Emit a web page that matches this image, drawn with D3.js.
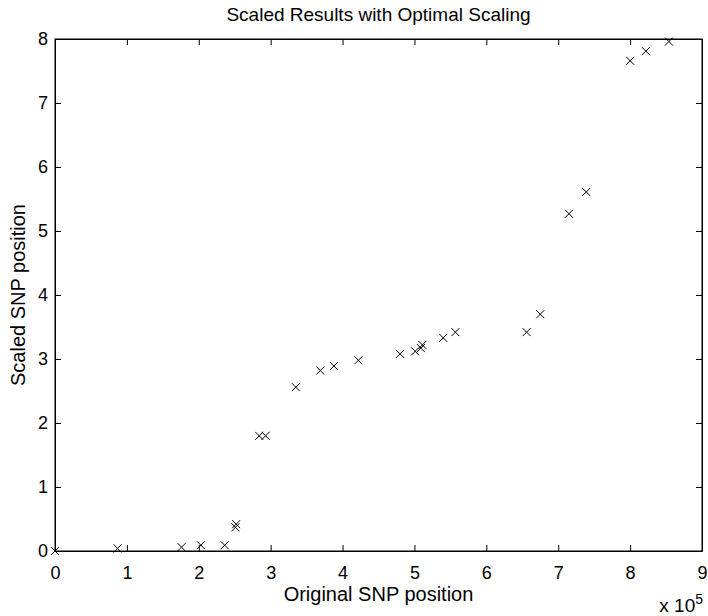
<!DOCTYPE html>
<html>
<head>
<meta charset="utf-8">
<script src="https://cdn.jsdelivr.net/npm/d3@7"></script>
<style>
  body { margin: 0; background: #fff; }
  text { font-family: "Liberation Sans", Arial, sans-serif; fill: #000; }
</style>
</head>
<body>
<div id="chart"></div>
<script>
// original position (x 10^5) and scaled position
var origPos = [0, 0.87, 1.76, 2.03, 2.36, 2.51, 2.52, 2.84, 2.93, 3.35, 3.69, 3.88, 4.22,
               4.80, 5.01, 5.09, 5.11, 5.40, 5.57, 6.56, 6.75, 7.15, 7.39, 8.00, 8.22, 8.54];
var scaledPos = [0, 0.04, 0.06, 0.09, 0.09, 0.37, 0.42, 1.80, 1.80, 2.56, 2.82, 2.89, 2.98,
                 3.08, 3.12, 3.17, 3.22, 3.33, 3.42, 3.42, 3.70, 5.27, 5.61, 7.66, 7.81, 7.96];
var xTicks = [0, 1, 2, 3, 4, 5, 6, 7, 8, 9];
var yTicks = [0, 1, 2, 3, 4, 5, 6, 7, 8];

function drawChart() {
    var w = 708;
    var h = 616;
    var left = 55, right = 702, top = 39, bottom = 551; //plot box

    var svg = d3.select("#chart")
                .append("svg")
                .attr("width", w)
                .attr("height", h);

    var x = d3.scaleLinear().domain([0, 9]).range([left, right]);
    var y = d3.scaleLinear().domain([0, 8]).range([bottom, top]);

    var tickLen = 6;

    // bottom + top axes (ticks pointing inward)
    svg.append("g")
        .attr("transform", "translate(0," + bottom + ")")
        .call(d3.axisBottom(x).tickValues(xTicks).tickSizeInner(-tickLen).tickSizeOuter(0).tickPadding(15))
        .call(styleAxis);
    svg.append("g")
        .attr("transform", "translate(0," + top + ")")
        .call(d3.axisTop(x).tickValues(xTicks).tickSizeInner(-tickLen).tickSizeOuter(0).tickFormat(""))
        .call(styleAxis);
    // left + right axes
    svg.append("g")
        .attr("transform", "translate(" + left + ",0)")
        .call(d3.axisLeft(y).tickValues(yTicks).tickSizeInner(-tickLen).tickSizeOuter(0).tickPadding(7))
        .call(styleAxis);
    svg.append("g")
        .attr("transform", "translate(" + right + ",0)")
        .call(d3.axisRight(y).tickValues(yTicks).tickSizeInner(-tickLen).tickSizeOuter(0).tickFormat(""))
        .call(styleAxis);

    svg.append("rect")
        .attr("x", left).attr("y", top)
        .attr("width", right - left).attr("height", bottom - top)
        .attr("fill", "none").attr("stroke", "#000").attr("stroke-width", 1);

    // x markers
    var s = 4;
    var pts = origPos.map(function(d, i) { return [d, scaledPos[i]]; });
    svg.append("g").selectAll("path")
        .data(pts)
        .enter()
        .append("path")
        .attr("d", function(d) {
            var cx = x(d[0]), cy = y(d[1]);
            return "M" + (cx - s) + "," + (cy - s) + "L" + (cx + s) + "," + (cy + s) +
                   "M" + (cx - s) + "," + (cy + s) + "L" + (cx + s) + "," + (cy - s);
        })
        .attr("stroke", "#000")
        .attr("stroke-width", 1)
        .attr("fill", "none");

    // title and labels
    svg.append("text")
        .attr("x", (left + right) / 2).attr("y", 21)
        .attr("text-anchor", "middle")
        .style("font-size", "19px")
        .text("Scaled Results with Optimal Scaling");

    svg.append("text")
        .attr("x", (left + right) / 2).attr("y", 601)
        .attr("text-anchor", "middle")
        .style("font-size", "20px")
        .text("Original SNP position");

    svg.append("text")
        .attr("transform", "translate(25,295) rotate(-90)")
        .attr("text-anchor", "middle")
        .style("font-size", "20px")
        .text("Scaled SNP position");

    var exp = svg.append("text")
        .attr("x", 703).attr("y", 612)
        .attr("text-anchor", "end")
        .style("font-size", "19px");
    exp.append("tspan").text("x 10");
    exp.append("tspan").attr("dy", -8).style("font-size", "14px").text("5");
}

function styleAxis(g) {
    g.select(".domain").attr("stroke", "#000");
    g.selectAll(".tick line").attr("stroke", "#000");
    g.selectAll(".tick text")
        .style("font-size", "18px")
        .style("font-family", "'Liberation Sans', Arial, sans-serif")
        .attr("fill", "#000");
}

drawChart();
</script>
</body>
</html>
